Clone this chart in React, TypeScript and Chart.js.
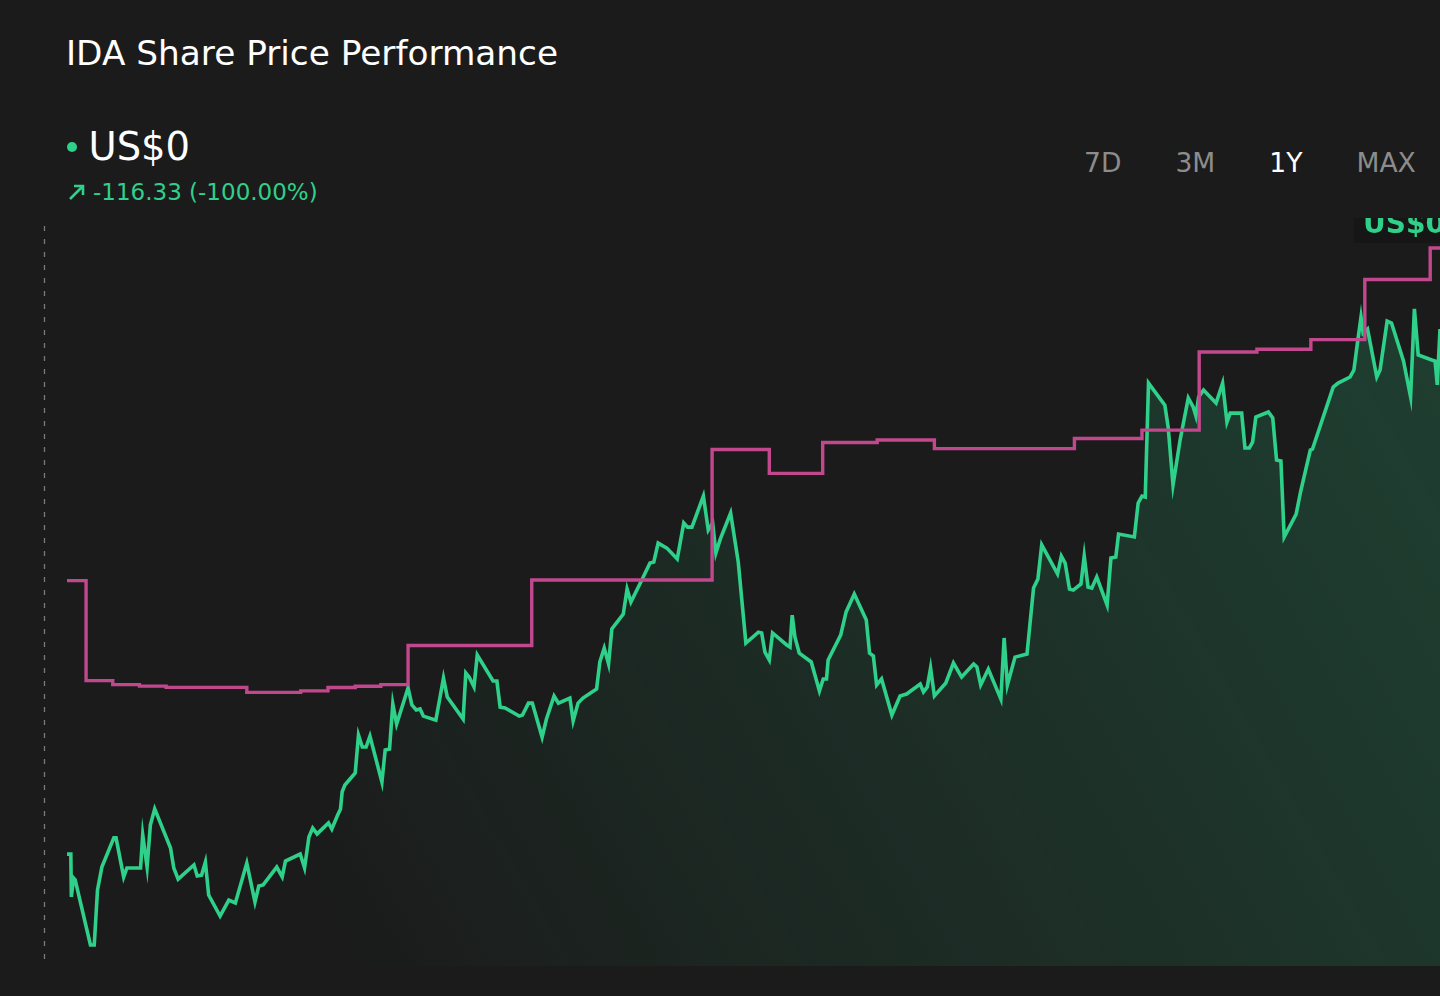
import { useEffect, useRef } from 'react';
import { Chart, registerables } from 'chart.js';

Chart.register(...registerables);

// ---- Data ----
// Share price (US$) by trading day over the 1Y window
const priceDay = [
  0, 0.7, 0.8, 1.2, 1.5, 4.3, 5.0, 5.6, 6.4, 8.6,
  9.0, 10.4, 11.0, 13.5, 13.9, 14.7, 15.3, 16.1, 19.0, 19.6,
  20.4, 23.3, 23.9, 24.7, 25.4, 26.0, 28.1, 29.7, 30.9, 33.0,
  34.5, 35.2, 36.0, 38.5, 39.5, 40.1, 42.8, 43.6, 44.4, 45.1,
  45.9, 48.0, 48.6, 49.6, 50.2, 50.5, 51.0, 52.9, 53.5, 54.2,
  54.9, 55.6, 57.8, 58.4, 59.2, 59.8, 60.5, 62.6, 63.3, 64.1,
  64.8, 65.4, 67.7, 69.1, 69.8, 72.7, 73.2, 73.8, 74.7, 75.3,
  78.2, 78.9, 79.5, 80.4, 83.0, 83.6, 84.7, 85.4, 87.2, 88.0,
  89.4, 90.2, 92.3, 92.9, 93.8, 94.7, 97.2, 97.8, 98.6, 99.4,
  100.0, 102.1, 102.8, 103.5, 105.5, 107.0, 107.7, 108.5, 110.1, 112.0,
  113.2, 113.9, 114.7, 116.8, 117.7, 118.5, 119.1, 119.9, 121.8, 123.2,
  124.6, 126.9, 127.5, 128.1, 128.9, 129.5, 132.1, 132.7, 133.1, 133.6,
  134.4, 136.6, 138.1, 138.8, 139.4, 139.7, 142.0, 143.0, 144.5, 146.7,
  147.3, 148.0, 148.6, 149.5, 151.4, 152.9, 154.1, 156.6, 157.2, 157.9,
  158.5, 159.2, 161.3, 162.7, 164.2, 166.4, 167.0, 167.7, 169.1, 171.4,
  172.0, 172.6, 174.0, 176.2, 177.4, 178.2, 178.9, 181.8, 182.5, 183.2,
  184.0, 184.7, 186.1, 186.7, 187.4, 188.1, 189.0, 190.9, 191.6, 192.5,
  193.0, 195.9, 196.6, 197.3, 197.9, 198.5, 201.5, 202.1, 203.0, 204.3,
  205.8, 206.7, 207.2, 207.7, 208.6, 210.9, 212.1, 212.9, 213.5, 215.6,
  216.2, 217.0, 217.6, 218.2, 220.5, 221.3, 222.0, 222.8, 223.4, 225.6,
  226.4, 228.2, 228.6, 232.4, 233.3, 235.5, 236.2, 236.8, 237.5, 237.9,
  238.7, 240.4, 241.0, 242.3, 243.1, 245.3, 246.6, 247.3, 248.0, 250.5,
  251.1, 251.5, 252.0,
];

const priceValue = [
  91.33, 91.33, 89.29, 90.19, 90.10, 87.00, 87.00, 89.62, 90.71, 92.10,
  92.10, 90.24, 90.67, 90.67, 92.24, 90.71, 92.71, 93.48, 91.62, 90.67,
  90.14, 90.81, 90.29, 90.33, 90.95, 89.38, 88.38, 89.14, 89.00, 90.90,
  89.05, 89.81, 89.86, 90.71, 90.24, 91.00, 91.33, 90.67, 92.14, 92.57,
  92.29, 92.81, 92.52, 93.14, 93.48, 94.29, 94.62, 95.19, 97.00, 96.43,
  96.43, 96.95, 94.76, 96.29, 96.33, 98.48, 97.52, 99.24, 98.43, 98.19,
  98.24, 97.90, 97.71, 99.71, 98.81, 97.76, 99.95, 99.76, 99.29, 100.81,
  99.57, 99.57, 98.33, 98.29, 97.90, 97.95, 98.52, 98.52, 96.90, 97.76,
  98.86, 98.52, 98.76, 97.67, 98.52, 98.76, 99.19, 100.48, 101.14, 100.38,
  102.05, 102.76, 103.95, 103.33, 104.38, 105.19, 105.24, 106.14, 105.90, 105.38,
  107.10, 106.90, 106.90, 108.38, 106.76, 107.10, 105.67, 106.33, 107.57, 105.24,
  101.38, 101.90, 101.86, 100.95, 100.57, 101.86, 101.29, 101.19, 102.71, 101.67,
  100.90, 100.48, 99.10, 99.67, 99.67, 100.57, 101.76, 102.86, 103.71, 102.48,
  100.90, 100.76, 99.38, 99.67, 97.95, 98.86, 98.95, 99.43, 99.05, 99.29,
  100.19, 98.86, 99.48, 100.43, 99.76, 100.38, 100.24, 99.38, 100.14, 98.71,
  101.62, 99.38, 100.71, 100.86, 104.00, 104.43, 106.05, 104.67, 105.52, 105.19,
  103.95, 103.90, 104.19, 105.52, 104.05, 104.00, 104.52, 103.19, 105.43, 105.48,
  106.57, 106.43, 108.05, 108.38, 108.33, 113.76, 112.71, 111.67, 108.90, 111.05,
  113.05, 112.62, 112.19, 113.10, 113.43, 112.81, 113.76, 111.90, 112.33, 112.33,
  110.67, 110.67, 110.95, 112.14, 112.38, 112.10, 110.10, 110.05, 106.43, 107.52,
  108.57, 110.57, 110.62, 113.57, 113.76, 114.05, 114.38, 115.57, 116.90, 116.14,
  116.33, 114.05, 114.38, 116.71, 116.62, 114.81, 113.10, 117.29, 115.10, 114.86,
  114.81, 113.67, 116.33,
];

// Stepped comparison line (value holds until the next change)
const targetDay = [
  0, 3.5, 8.4, 13.3, 18.2, 33.0, 42.9, 47.9, 52.9, 57.6, 62.6, 85.3,
  118.4, 128.9, 138.7, 148.7, 159.2, 184.9, 197.3, 207.8, 218.4, 228.3,
  238.2, 250.2, 252,
];
const targetValue = [
  104.35, 99.59, 99.40, 99.33, 99.27, 99.03, 99.10, 99.26, 99.32, 99.40, 101.26, 104.38,
  110.60, 109.46, 110.93, 111.05, 110.64, 111.12, 111.52, 115.24, 115.37, 115.83,
  118.69, 120.19, 120.19,
];

const dayRange = [0, 252];
const priceRange = [86, 121.24];

const title = 'IDA Share Price Performance';
const lastPriceLabel = 'US$0';
const changeLabel = '-116.33 (-100.00%)';
const rangeTabs = ['7D', '3M', '1Y', 'MAX'];
const activeTab = '1Y';

const GREEN = '#2fd08a';
const MAGENTA = '#c2488e';
const BG = '#1b1b1b';
const FONT = '"DejaVu Sans", Verdana, sans-serif';

export default function App() {
  const ref = useRef<HTMLCanvasElement>(null);

  useEffect(() => {
    document.body.style.margin = '0';
    document.body.style.background = BG;
    const canvas = ref.current;
    if (!canvas) return;

    const decorPlugin = {
      id: 'decor',
      beforeDatasetsDraw(chart: any) {
        const { ctx, chartArea } = chart;
        ctx.save();
        ctx.strokeStyle = '#7a7a7a';
        ctx.lineWidth = 1.3;
        ctx.setLineDash([5, 8]);
        const x = Math.round(chartArea.left - 23) + 0.5;
        ctx.beginPath();
        ctx.moveTo(x, chartArea.top);
        ctx.lineTo(x, chartArea.bottom);
        ctx.stroke();
        ctx.restore();
      },
      afterDraw(chart: any) {
        const { ctx, chartArea } = chart;
        ctx.save();
        ctx.fillStyle = '#161616';
        ctx.fillRect(chartArea.right - 86, 0, 86, 25);
        ctx.fillStyle = GREEN;
        ctx.font = `bold 28px ${FONT}`;
        ctx.textBaseline = 'alphabetic';
        ctx.textAlign = 'left';
        ctx.fillText(lastPriceLabel, chartArea.right - 77, 15);
        ctx.restore();
      },
    };

    const chart = new Chart(canvas, {
      type: 'line',
      data: {
        datasets: [
          {
            label: 'Comparison',
            data: targetDay.map((d, i) => ({ x: d, y: targetValue[i] })),
            borderColor: MAGENTA,
            borderWidth: 3.4,
            pointRadius: 0,
            stepped: 'before',
            fill: false,
          },
          {
            label: 'IDA',
            data: priceDay.map((d, i) => ({ x: d, y: priceValue[i] })),
            borderColor: GREEN,
            borderWidth: 3.6,
            pointRadius: 0,
            tension: 0,
            borderJoinStyle: 'miter',
            fill: 'start',
            backgroundColor: (c: any) => {
              const area = c.chart.chartArea;
              if (!area) return 'rgba(47,208,138,0.1)';
              const g = c.chart.ctx.createLinearGradient(
                area.left + 260,
                area.bottom,
                area.right,
                area.top + 100,
              );
              g.addColorStop(0, 'rgba(47,208,138,0.0)');
              g.addColorStop(0.35, 'rgba(47,208,138,0.08)');
              g.addColorStop(1, 'rgba(47,208,138,0.20)');
              return g;
            },
          },
        ],
      },
      options: {
        animation: false,
        responsive: true,
        maintainAspectRatio: false,
        layout: { padding: { left: 67, right: 0, top: 8, bottom: 30 } },
        scales: {
          x: { type: 'linear', min: dayRange[0], max: dayRange[1], display: false },
          y: { type: 'linear', min: priceRange[0], max: priceRange[1], display: false },
        },
        plugins: {
          legend: { display: false },
          tooltip: { enabled: false },
        },
      },
      plugins: [decorPlugin],
    } as any);

    return () => chart.destroy();
  }, []);

  return (
    <div
      style={{
        position: 'fixed',
        left: 0,
        top: 0,
        width: 1440,
        height: 996,
        background: BG,
        overflow: 'hidden',
        fontFamily: FONT,
      }}
    >
      <div
        style={{
          position: 'absolute',
          left: 66,
          top: 36,
          fontSize: 34.3,
          lineHeight: '34px',
          color: '#ffffff',
          whiteSpace: 'nowrap',
        }}
      >
        {title}
      </div>

      <div
        style={{
          position: 'absolute',
          left: 67,
          top: 142,
          width: 10,
          height: 10,
          borderRadius: 5,
          background: GREEN,
        }}
      />
      <div
        style={{
          position: 'absolute',
          left: 88.5,
          top: 128,
          fontSize: 38.5,
          lineHeight: '38px',
          color: '#ffffff',
          whiteSpace: 'nowrap',
        }}
      >
        {lastPriceLabel}
      </div>

      <svg
        style={{ position: 'absolute', left: 66, top: 182 }}
        width={22}
        height={20}
        viewBox="0 0 22 20"
      >
        <path d="M4 17 L17 4 M8 4 L17 4 L17 13" stroke={GREEN} strokeWidth={2.6} fill="none" />
      </svg>
      <div
        style={{
          position: 'absolute',
          left: 93,
          top: 181,
          fontSize: 23,
          lineHeight: '23px',
          color: GREEN,
          whiteSpace: 'nowrap',
        }}
      >
        {changeLabel}
      </div>

      <div
        style={{
          position: 'absolute',
          left: 1084,
          top: 149.5,
          display: 'flex',
          gap: 54,
          fontSize: 26.6,
          lineHeight: '26px',
          whiteSpace: 'nowrap',
        }}
      >
        {rangeTabs.map((t) => (
          <span key={t} style={{ color: t === activeTab ? '#ffffff' : '#8c8c8c' }}>
            {t}
          </span>
        ))}
      </div>

      <div style={{ position: 'absolute', left: 0, top: 218, width: 1440, height: 778 }}>
        <canvas ref={ref} />
      </div>
    </div>
  );
}
